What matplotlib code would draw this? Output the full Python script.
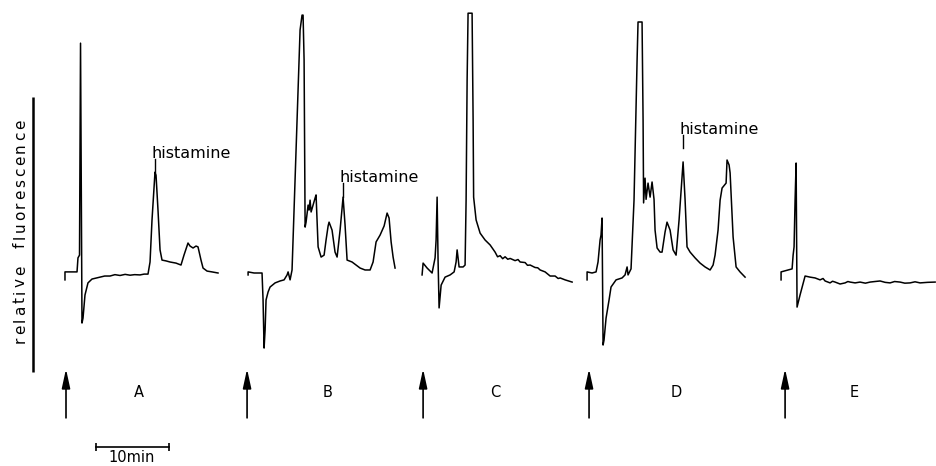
import matplotlib.pyplot as plt
from matplotlib.font_manager import FontProperties, findfont, get_font
from matplotlib.transforms import offset_copy

# injection times (min, from the left edge of the recording sheet)
inject_t = [9.04, 33.84, 57.95, 80.68, 107.53]
run_names = ['A', 'B', 'C', 'D', 'E']
name_dt = [10.0, 10.96, 9.86, 11.92, 9.45]

# chromatograms: time after injection (min) and relative fluorescence (0-100 of the bar)
t_A = [-0.14, -0.14, 1.51, 1.64, 1.85, 1.99, 2.19, 2.33, 2.60, 3.01, 3.56, 4.66, 5.3, 6.03, 6.7,
       7.40, 8.1, 8.77, 9.4, 10.14, 10.7, 11.23, 11.51, 11.78, 12.19, 12.33, 12.60, 12.88, 13.15,
       13.70, 14.25, 15.07, 15.75, 16.16, 16.71, 16.99, 17.40, 17.81, 18.08, 18.49, 18.77, 19.32,
       20.0, 20.82]
f_A = [33.5, 36.4, 36.4, 41.5, 42.5, 119.6, 17.8, 19.6, 28.0, 32.4, 33.8, 34.5, 34.9, 34.9, 35.4,
       35.1, 35.5, 35.2, 35.4, 35.3, 35.6, 35.6, 40.0, 55.3, 72.7, 71.6, 58.9, 44.4, 40.7,
       40.4, 40.0, 39.6, 38.9, 42.5, 46.9, 45.8, 45.1, 45.8, 45.5, 40.7, 37.8, 36.7,
       36.4, 36.0]

t_B = [0.14, 0.14, 0.96, 2.05, 2.19, 2.33, 2.47, 2.60, 2.88, 3.15, 3.84, 4.52, 5.07, 5.48, 5.62,
       5.89, 6.16, 6.71, 7.26, 7.53, 7.67, 7.81, 7.95, 8.08, 8.36, 8.49, 8.63, 8.77, 9.04, 9.32,
       9.45, 9.73, 10.14, 10.55, 10.82, 11.10, 11.23, 11.64, 12.05, 12.33, 12.74, 13.15, 13.42,
       13.70, 14.38, 15.48, 16.16, 16.85, 17.26, 17.67, 18.22, 18.77, 19.18, 19.45, 19.73, 20.0,
       20.27]
f_B = [35.3, 36.4, 36.0, 36.0, 26.2, 8.7, 15.3, 26.2, 29.1, 30.9, 32.4, 33.1, 33.5, 35.3, 36.4,
       33.5, 37.1, 80.7, 124.4, 129.8, 129.8, 113.5, 52.7, 54.5, 60.7, 58.9, 62.5, 58.2, 60.7, 63.3,
       64.4, 45.5, 41.8, 42.5, 48.0, 53.1, 54.5, 51.6, 43.6, 41.8, 51.6, 63.6, 53.5,
       40.7, 40.0, 37.8, 37.1, 37.1, 40.0, 47.3, 49.8, 53.1, 57.8, 56.0, 47.3, 41.8,
       37.8]

t_C = [-0.14, 0.0, 0.55, 1.23, 1.64, 1.78, 1.92, 2.05, 2.19, 2.47, 3.01, 3.70, 4.25, 4.52, 4.66,
       4.79, 4.93, 5.48, 5.75, 5.89, 6.03, 6.16, 6.71, 6.85, 6.92, 7.26, 7.81, 8.49, 9.18, 9.86,
       10.2, 10.55, 10.9, 11.23, 11.6, 11.92, 12.60, 13.0, 13.29, 13.97, 14.3, 14.66, 15.34, 15.7,
       16.03, 16.71, 17.40, 18.08, 18.5, 18.77, 19.45, 20.41]
f_C = [35.3, 39.6, 37.8, 36.0, 41.5, 48.0, 63.6, 40.7, 23.3, 31.6, 34.5, 35.3, 36.4, 40.0, 44.4,
       41.5, 38.2, 38.2, 38.9, 62.5, 106.2, 130.5, 130.5, 91.6, 63.6, 55.3, 50.5, 48.0, 46.2, 43.6,
       41.9, 42.3, 41.2, 41.9, 41.0, 41.3, 40.5, 40.9, 40.0, 39.8, 38.8, 38.9, 38.0, 37.9,
       37.1, 36.4, 34.9, 34.9, 34.0, 34.2, 33.5, 32.7]

t_D = [-0.27, -0.27, 0.41, 0.96, 1.23, 1.51, 1.64, 1.78, 1.92, 2.05, 2.33, 2.74, 3.01, 3.70, 4.52,
       4.93, 5.21, 5.34, 5.75, 6.16, 6.58, 6.71, 7.26, 7.40, 7.47, 7.67, 7.81, 8.08, 8.36, 8.63,
       8.90, 9.04, 9.32, 9.73, 10.0, 10.41, 10.68, 11.10, 11.51, 11.92, 12.33, 12.88, 13.15, 13.42,
       13.84, 14.52, 15.21, 15.89, 16.58, 16.99, 17.26, 17.67, 17.95, 18.22, 18.77, 18.90, 19.18,
       19.32, 19.73, 20.14, 20.68, 21.37]
f_D = [33.5, 36.4, 36.0, 36.4, 40.0, 48.0, 49.8, 56.0, 9.8, 11.6, 19.6, 26.2, 30.9, 33.5, 34.2,
       35.3, 38.2, 35.3, 37.5, 62.5, 113.5, 127.3, 127.3, 91.6, 61.5, 70.5, 62.8, 68.7, 63.6, 69.1,
       62.8, 51.6, 45.1, 43.6, 43.6, 50.9, 54.5, 51.6, 44.4, 42.5, 55.3, 76.4, 62.8, 45.5,
       43.6, 41.5, 39.6, 38.2, 37.1, 38.9, 42.5, 51.6, 62.5, 66.9, 68.7, 77.1, 75.3,
       72.4, 49.1, 38.2, 36.4, 34.5]

t_E = [-0.55, -0.55, 0.41, 0.96, 1.10, 1.23, 1.37, 1.51, 1.64, 2.05, 2.74, 3.42, 4.11, 4.79, 5.2,
       5.48, 6.16, 6.5, 6.85, 7.53, 8.22, 8.6, 8.90, 9.59, 10.27, 11.0, 11.64, 12.3, 13.01, 13.7,
       14.38, 15.0, 15.75, 16.4, 17.12, 17.8, 18.49, 19.5, 20.55]
f_E = [33.5, 36.4, 37.1, 37.5, 42.5, 45.5, 62.5, 76.0, 23.6, 28.0, 34.9, 34.5, 34.2, 33.5, 34.0,
       33.1, 32.4, 33.0, 32.7, 32.0, 32.4, 32.9, 32.7, 32.4, 32.7, 32.3, 32.7, 32.9, 33.1, 32.6,
       32.4, 32.9, 32.7, 32.3, 32.4, 32.8, 32.4, 32.6, 32.7]

traces = [(t_A, f_A), (t_B, f_B), (t_C, f_C), (t_D, f_D), (t_E, f_E)]

# histamine peaks: run index, peak time, tick bottom / top
hist_run = [0, 1, 3]
hist_t = [12.19, 13.15, 12.88]
hist_y0 = [72.7, 63.6, 81.5]
hist_y1 = [77.5, 68.7, 86.2]


def tracked_text(ax, x, y, s, size, tracking, rotation=0):
    # draw a string glyph by glyph with extra letter spacing (in points)
    prop = FontProperties(family='DejaVu Sans', size=size)
    font = get_font(findfont(prop))
    font.set_size(size, 72)
    pos = 0.0
    for ch in s:
        if ch != ' ':
            dx, dy = (pos, 0) if rotation == 0 else (0, pos)
            tr = offset_copy(ax.transData, fig=ax.figure, x=dx, y=dy, units='points')
            ax.text(x, y, ch, transform=tr, fontproperties=prop, rotation=rotation,
                    rotation_mode='anchor', ha='left', va='baseline', color='black')
        pos += font.load_char(ord(ch)).linearHoriAdvance / 65536 + tracking


fig = plt.figure(figsize=(9.36, 4.66), dpi=100)
ax = fig.add_axes([0, 0, 1, 1])
ax.set_xlim(0, 128.2)
ax.set_ylim(-34.2, 135.3)
ax.axis('off')

for t0, (t, f), name, dt in zip(inject_t, traces, run_names, name_dt):
    ax.plot([t0 + v for v in t], f, color='black', lw=1.1, solid_joinstyle='round')
    ax.annotate('', xy=(t0, 1.1), xytext=(t0, -16.7),
                arrowprops=dict(arrowstyle='-|>,head_length=1.15,head_width=0.25',
                                color='black', lw=1.2, shrinkA=0, shrinkB=0))
    ax.text(t0 + dt, -7.3, name, ha='center', va='center', fontsize=10.5, color='black')

for i, tp, y0, y1 in zip(hist_run, hist_t, hist_y0, hist_y1):
    x = inject_t[i] + tp
    ax.plot([x, x], [y0, y1], color='black', lw=1.0)
    ax.text(x - 0.45, y1 + 0.4, 'histamine', ha='left', va='baseline', fontsize=11.5)

# fluorescence scale bar and label
ax.plot([4.52, 4.52], [0, 100], color='black', lw=1.8, solid_capstyle='butt')
tracked_text(ax, 3.42, 10.5, 'relative  fluorescence', 11, 2.0, rotation=90)

# time scale bar
ax.plot([13.15, 23.15], [-27.3, -27.3], color='black', lw=1.2, marker='|', ms=6, mew=1.2)
ax.text(18.0, -32.6, '10min', ha='center', va='baseline', fontsize=10.5)

fig.savefig('out.png', dpi=100)
